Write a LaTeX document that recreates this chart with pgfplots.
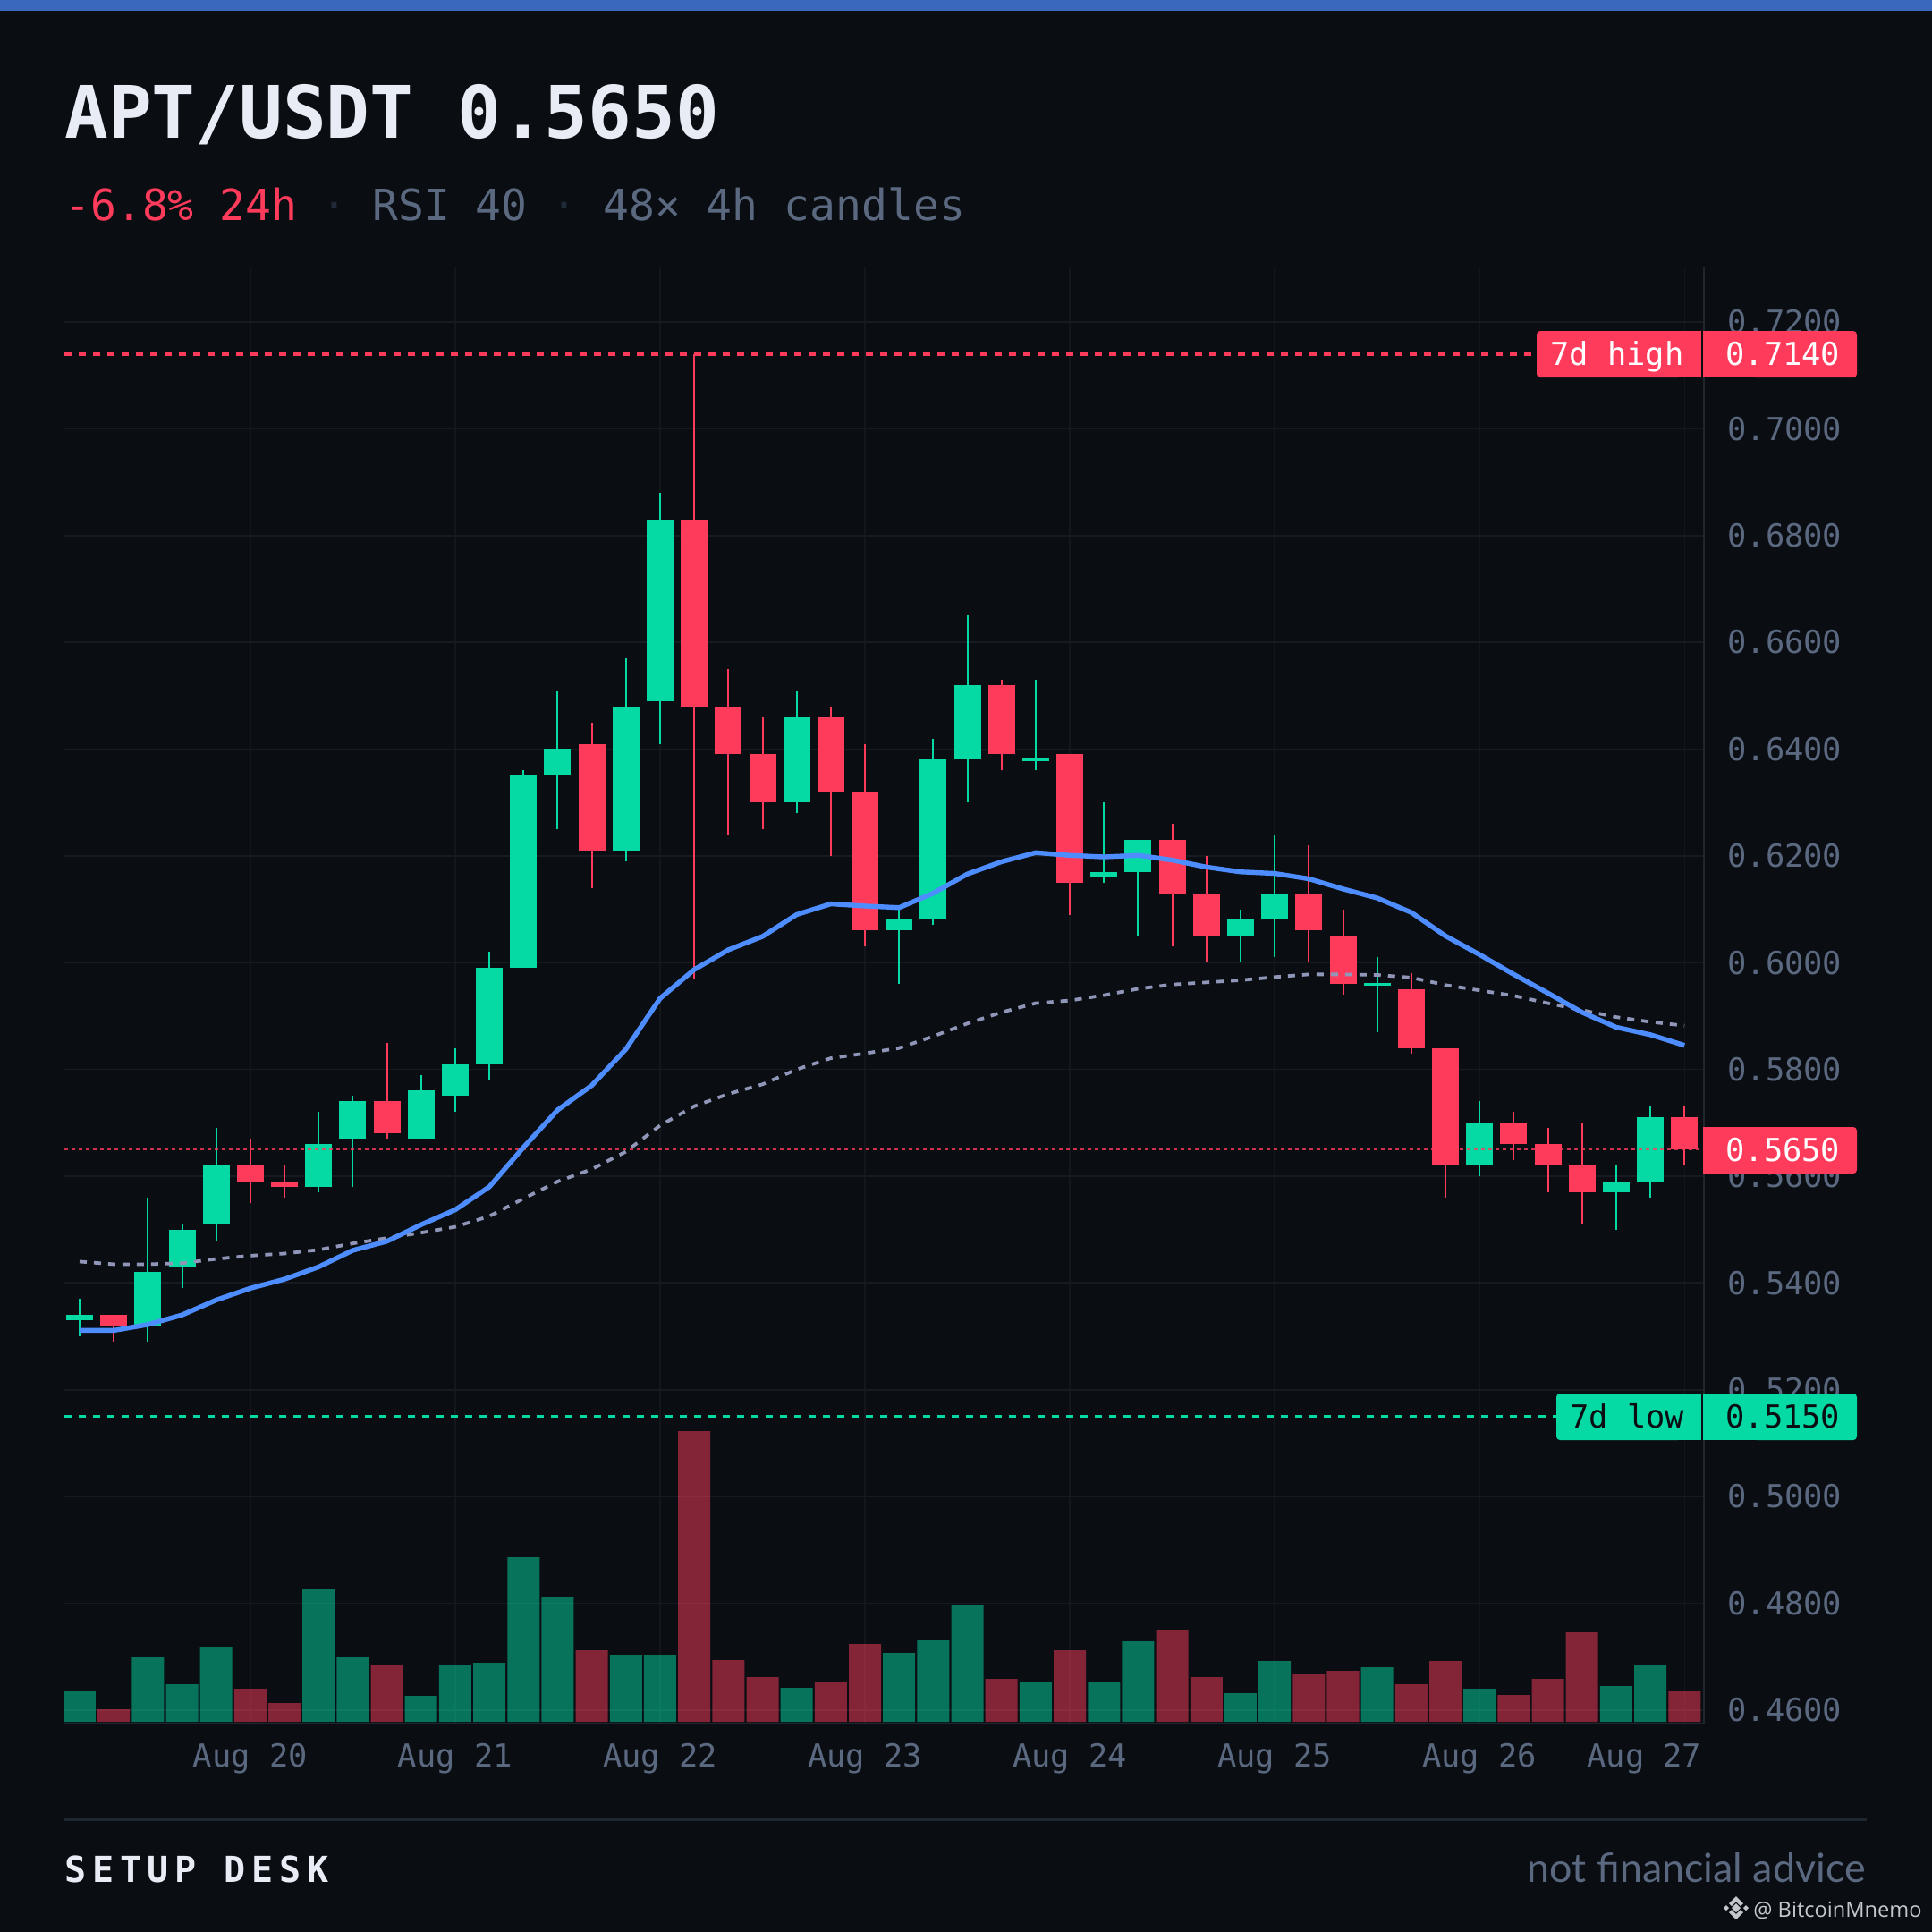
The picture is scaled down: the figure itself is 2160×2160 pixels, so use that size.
\documentclass[border=0pt]{standalone}
\usepackage{fontspec}
\usepackage{pgfplots}
\usepackage{pgfplotstable}
\pgfplotsset{compat=1.18}
\setmainfont{Liberation Sans}
\setmonofont{DejaVu Sans Mono}
\newfontfamily\footfont{Lato}
\newfontfamily\markfont{Open Sans}
\newfontfamily\spacedfont[LetterSpace=17]{DejaVu Sans Mono}

\definecolor{bgc}{HTML}{0A0D12}
\definecolor{barc}{HTML}{3A68BD}
\definecolor{upc}{HTML}{05D9A4}
\definecolor{dnc}{HTML}{FF3B5C}
\definecolor{emac}{HTML}{4D8DFF}
\definecolor{mac}{HTML}{8F96B8}
\definecolor{gridc}{HTML}{171B21}
\definecolor{vgridc}{HTML}{13171C}
\definecolor{axisc}{HTML}{1E2630}
\definecolor{textc}{HTML}{E8ECF4}
\definecolor{mutec}{HTML}{5A6880}
\definecolor{sepc}{HTML}{1F2937}
\definecolor{markc}{HTML}{C4C8CE}

% i open high low close volume
\pgfplotstableread{
i o h l c v
0 .533 .537 .530 .534 35
2 .532 .556 .529 .542 73
3 .543 .551 .539 .550 42
4 .551 .569 .548 .562 84
7 .558 .572 .557 .566 149
8 .567 .575 .558 .574 73
10 .567 .579 .567 .576 29
11 .575 .584 .572 .581 64
12 .581 .602 .578 .599 66
13 .599 .636 .599 .635 184
14 .635 .651 .625 .640 139
16 .621 .657 .619 .648 75
17 .649 .688 .641 .683 75
21 .630 .651 .628 .646 38
24 .606 .610 .596 .608 77
25 .608 .642 .607 .638 92
26 .638 .665 .630 .652 131
28 .6377 .653 .636 .6382 44
30 .616 .630 .615 .617 45
31 .617 .623 .605 .623 90
34 .605 .610 .600 .608 32
35 .608 .624 .601 .613 68
38 .5957 .601 .587 .5962 61
41 .562 .574 .560 .570 37
45 .557 .562 .550 .559 40
46 .559 .573 .556 .571 64
}\upcandles
\pgfplotstableread{
i o h l c v
1 .534 .534 .529 .532 14
5 .562 .567 .555 .559 37
6 .559 .562 .556 .558 21
9 .574 .585 .567 .568 64
15 .641 .645 .614 .621 80
18 .683 .714 .597 .648 325
19 .648 .655 .624 .639 69
20 .639 .646 .625 .630 50
22 .646 .648 .620 .632 45
23 .632 .641 .603 .606 87
27 .652 .653 .636 .639 48
29 .639 .639 .609 .615 80
32 .623 .626 .603 .613 103
33 .613 .620 .600 .605 50
36 .613 .622 .600 .606 54
37 .605 .610 .594 .596 57
39 .595 .598 .583 .584 42
40 .584 .584 .556 .562 68
42 .570 .572 .563 .566 30
43 .566 .569 .557 .562 48
44 .562 .570 .551 .557 100
47 .571 .573 .562 .565 35
}\dncandles
\pgfplotstableread{
i ema ma
0 .5311 .5440
1 .5311 .5435
2 .5322 .5435
3 .5340 .5437
4 .5368 .5445
5 .5390 .5451
6 .5407 .5455
7 .5430 .5462
8 .5461 .5474
9 .5478 .5484
10 .5509 .5494
11 .5537 .5505
12 .5580 .5525
13 .5654 .5558
14 .5724 .5590
15 .5770 .5613
16 .5838 .5646
17 .5933 .5695
18 .5987 .5731
19 .6024 .5754
20 .6049 .5772
21 .6090 .5800
22 .6110 .5821
23 .6106 .5830
24 .6103 .5840
25 .6130 .5862
26 .6166 .5886
27 .6189 .5907
28 .6206 .5924
29 .6201 .5929
30 .6198 .5939
31 .6201 .5951
32 .6192 .5959
33 .6179 .5963
34 .6170 .5967
35 .6167 .5973
36 .6157 .5978
37 .6138 .5978
38 .6121 .5977
39 .6094 .5972
40 .6050 .5958
41 .6015 .5948
42 .5978 .5938
43 .5943 .5924
44 .5907 .5911
45 .5879 .5898
46 .5865 .5889
47 .5845 .5882
}\lines

\pgfplotsset{
  panel/.style={
    scale only axis, width=916.5pt, height=814.5pt,
    at={(36pt,-963.5pt)}, anchor=south west,
    xmin=-0.445, xmax=47.57},
  price/.style={panel, ymin=0.45745, ymax=0.73039},
  wick/.style={draw=none, no markers, forget plot,
    error bars/.cd, y dir=plus, y explicit, error mark=none,
    error bar style={draw=#1, solid, line width=1pt}},
  body/.style={draw=none, no markers, forget plot,
    error bars/.cd, y dir=plus, y explicit, error mark=none,
    error bar style={draw=#1, solid, line width=15pt}},
}
\newcommand{\ticktext}{\ttfamily\fontsize{17.7}{20}\selectfont}

\begin{document}
\begin{tikzpicture}
\begin{scope}[x=0.5pt,y=-0.5pt]
\useasboundingbox (0,0) rectangle (2160,2160);
\fill[bgc] (0,0) rectangle (2160,2160);
\fill[barc] (0,0) rectangle (2160,12);
\end{scope}

% grid, ticks and axis lines
\begin{axis}[price,
  axis x line*=bottom, axis y line*=right,
  axis line style={draw=axisc, line width=1pt},
  xtick={5,11,17,23,29,35,41,47},
  xticklabels={Aug 20,Aug 21,Aug 22,Aug 23,Aug 24,Aug 25,Aug 26,{\makebox[0pt][r]{Aug 27\hspace{-9.5pt}}}},
  ytick={0.46,0.48,0.50,0.52,0.54,0.56,0.58,0.60,0.62,0.64,0.66,0.68,0.70,0.72},
  major tick length=0pt,
  xmajorgrids, ymajorgrids,
  x grid style={vgridc, line width=0.7pt},
  y grid style={gridc, line width=0.9pt},
  tick label style={font=\ticktext, text=mutec, inner sep=0pt},
  x tick label style={anchor=base, yshift=-24pt},
  y tick label style={anchor=base west, xshift=13pt, yshift=-6.4pt,
    /pgf/number format/.cd, fixed, fixed zerofill, precision=4, assume math mode=true},
]
\end{axis}

% volume, heights
\begin{axis}[panel, hide axis, ymin=-2, ymax=1627, ybar, bar width=18pt, bar shift=0pt]
\addplot[draw=none, fill=upc, fill opacity=0.5] table[x=i, y=v] {\upcandles};
\addplot[draw=none, fill=dnc, fill opacity=0.5] table[x=i, y=v] {\dncandles};
\end{axis}

% candles and lines
\begin{axis}[price, hide axis]
\addplot[dash pattern=on 4pt off 4pt, line width=1.7pt, dnc] coordinates {(-0.445,0.714) (42.52,0.714)};
\addplot[dash pattern=on 4pt off 4pt, line width=1.7pt, upc] coordinates {(-0.445,0.515) (43.30,0.515)};
\addplot[wick=upc] table[x=i, y=l, y error plus expr=\thisrow{h}-\thisrow{l}] {\upcandles};
\addplot[wick=dnc] table[x=i, y=l, y error plus expr=\thisrow{h}-\thisrow{l}] {\dncandles};
\addplot[body=upc] table[x=i, y=o, y error plus expr=\thisrow{c}-\thisrow{o}] {\upcandles};
\addplot[body=dnc] table[x=i, y=c, y error plus expr=\thisrow{o}-\thisrow{c}] {\dncandles};
\addplot[dash pattern=on 2pt off 2pt, line width=0.75pt, dnc, opacity=0.8] coordinates {(-0.445,0.565) (47.57,0.565)};
\addplot[dash pattern=on 4pt off 4pt, line width=1.9pt, mac] table[x=i, y=ma] {\lines};
\addplot[line width=2.7pt, emac, line join=round] table[x=i, y=ema] {\lines};
\end{axis}

\begin{scope}[x=0.5pt,y=-0.5pt]
% header
\node[anchor=base west, inner sep=0pt, text=textc, font=\ttfamily\bfseries\fontsize{40.5}{44}\selectfont] at (72,154) {APT/USDT 0.5650};
\begin{scope}[every node/.style={anchor=base west, inner sep=0pt, font=\ttfamily\fontsize{24}{28}\selectfont}]
\node[text=dnc] at (72,246) {-6.8\% 24h};
\node[text=mutec] at (416,246) {RSI 40};
\node[text=mutec] at (674,246) {48× 4h candles};
\node[text=sepc, anchor=base] at (374,246) {·};
\node[text=sepc, anchor=base] at (631,246) {·};
\end{scope}

% price badges
\begin{scope}[every node/.style={inner sep=0pt, font=\ticktext, anchor=base west}]
\fill[dnc, rounded corners=2pt] (1718,370) rectangle (1880,422);
\fill[dnc] (1800,370) rectangle (1902,422);
\fill[dnc, rounded corners=2pt] (1960,370) rectangle (2076,422);
\fill[dnc] (1904,370) rectangle (2040,422);
\node[text=white] at (1733,408.5) {7d high};
\node[text=white] at (1929,408.5) {0.7140};

\fill[dnc, rounded corners=2pt] (1960,1260) rectangle (2076,1312);
\fill[dnc] (1904,1260) rectangle (2040,1312);
\node[text=white] at (1929,1298.5) {0.5650};

\fill[upc, rounded corners=2pt] (1740,1558) rectangle (1880,1610);
\fill[upc] (1800,1558) rectangle (1902,1610);
\fill[upc, rounded corners=2pt] (1960,1558) rectangle (2076,1610);
\fill[upc] (1904,1558) rectangle (2040,1610);
\node[text=bgc] at (1755,1596.5) {7d low};
\node[text=bgc] at (1929,1596.5) {0.5150};
\end{scope}

% footer
\fill[axisc] (72,2032) rectangle (2087,2036);
\node[anchor=base west, inner sep=0pt, text=textc, font=\spacedfont\bfseries\fontsize{20}{24}\selectfont] at (72,2104) {SETUP DESK};
\node[anchor=base east, inner sep=0pt, text=mutec, font=\footfont\fontsize{22.4}{26}\selectfont] at (2086,2104) {not financial advice};
\node[anchor=base west, inner sep=0pt, text=markc, font=\markfont\fontsize{11.8}{14}\selectfont] at (1960,2143) {@ BitcoinMnemo};
\fill[markc] (1941,2128) -- (1946,2133) -- (1941,2138) -- (1936,2133) -- cycle;
\fill[markc] (1930,2130) -- (1933,2133) -- (1930,2136) -- (1927,2133) -- cycle;
\fill[markc] (1952,2130) -- (1955,2133) -- (1952,2136) -- (1949,2133) -- cycle;
\fill[markc] (1941,2120) -- (1949,2128) -- (1946,2131) -- (1941,2126) -- (1936,2131) -- (1933,2128) -- cycle;
\fill[markc] (1941,2146) -- (1949,2138) -- (1946,2135) -- (1941,2140) -- (1936,2135) -- (1933,2138) -- cycle;
\end{scope}
\end{tikzpicture}
\end{document}
